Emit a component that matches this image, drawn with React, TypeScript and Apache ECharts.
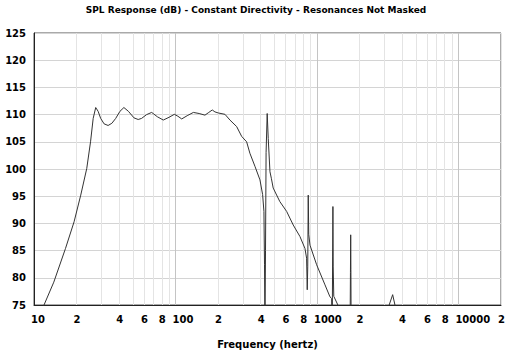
import React, { useEffect, useRef } from "react";
import * as echarts from "echarts";

// Frequency (Hz) and SPL (dB)
const freqs: number[] = [
  10, 11.77, 13.8, 16.7, 19.2, 21.4, 23.6, 25.1, 26.2, 27.3, 28.4, 29.6, 31.3, 33.4, 35.5, 37.8,
  40.5, 43.2, 46.5, 50.9, 54.5, 57.6, 62.5, 67.9, 74.5, 82, 90, 98.2, 104, 110.7, 121, 133.8,
  147, 161.6, 172, 182, 190, 200.6, 223.8, 242.7, 270.7, 293.6, 318.4, 335.7, 364.5, 395.6,
  413, 422, 426, 429, 433, 437, 445, 452.7, 465.5, 476, 490.6, 547, 610.8, 680, 758, 822.8,
  845, 854, 861, 868, 875, 893, 995, 1140, 1236, 1270, 1282, 1291, 1297, 1303, 1315, 1406,
  1500, 1650, 1715, 1725, 1732, 1738, 1745, 2200, 2800, 3240, 3430, 3560, 3800, 6000, 20000,
];
const spl: number[] = [
  71, 75, 79.2, 85.4, 90.3, 95.2, 100.1, 105, 109.3, 111.3, 110.6, 109.3, 108.3, 108.0, 108.4, 109.3,
  110.6, 111.3, 110.6, 109.4, 109.1, 109.3, 110.0, 110.4, 109.6, 109.0, 109.5, 110.05, 109.7, 109.2, 109.8, 110.4,
  110.2, 109.9, 110.4, 110.85, 110.5, 110.3, 110.05, 109.0, 107.8, 106.0, 105.0, 102.9, 100.5, 98.0,
  95.3, 92.2, 82.5, 70, 85, 103, 110.2, 105.6, 99.5, 98.3, 96.5, 94.0, 92.2, 89.7, 87.6, 85.4,
  83.6, 77.8, 82, 95.2, 88, 86, 82.4, 78.7, 76.5, 76.2, 70, 84, 93.1, 82, 76.6, 75,
  73, 72, 70, 81, 87.9, 81.5, 70, 72, 72, 75, 76.9, 75, 72, 68, 60,
];

const gridFreqs: number[] = [
  10, 20, 30, 40, 50, 60, 70, 80, 90,
  100, 200, 300, 400, 500, 600, 700, 800, 900,
  1000, 2000, 3000, 4000, 5000, 6000, 7000, 8000, 9000,
  10000, 20000,
];
const labelFreqs: number[] = [10, 20, 40, 60, 80, 100, 200, 400, 600, 800, 1000, 2000, 4000, 6000, 8000, 10000, 20000];

const FONT = "DejaVu Sans";

export default function App() {
  const ref = useRef<HTMLDivElement>(null);
  useEffect(() => {
    if (!ref.current) return;
    const chart = echarts.init(ref.current, null, { renderer: "svg" });
    const data = freqs.map((f, i) => [Math.log10(f), spl[i]]);
    const fmt = (v: number) => {
      const f = Math.round(Math.pow(10, v));
      const s = String(f);
      return /^10*$/.test(s) ? s : s[0];
    };
    chart.setOption({
      animation: false,
      backgroundColor: "#fff",
      title: {
        text: "SPL Response (dB) - Constant Directivity - Resonances Not Masked",
        left: "center",
        top: 0,
        padding: [5, 5, 5, 5],
        textStyle: { fontFamily: FONT, fontWeight: "bold", fontSize: 9, color: "#000" },
      },
      grid: {
        left: 34,
        right: 11,
        top: 33,
        bottom: 52,
        show: true,
        borderColor: "#555",
        borderWidth: 1,
      },
      xAxis: {
        type: "value",
        min: 1,
        max: Math.log10(20000),
        name: "Frequency (hertz)",
        nameLocation: "middle",
        nameGap: 34,
        nameTextStyle: { fontFamily: FONT, fontWeight: "bold", fontSize: 10, color: "#000" },
        axisLine: { show: true, lineStyle: { color: "#222", width: 1 } },
        axisTick: { show: false, customValues: gridFreqs.map((f) => Math.log10(f)) },
        splitLine: {
          show: true,
          lineStyle: {
            color: ["#c4c4c4", "#e4e4e4", "#e4e4e4", "#e4e4e4", "#e4e4e4", "#e4e4e4", "#e4e4e4", "#e4e4e4", "#e4e4e4"],
            width: 1,
          },
        },
        axisLabel: {
          customValues: labelFreqs.map((f) => Math.log10(f)),
          formatter: fmt,
          align: "left",
          padding: [0, 0, 0, -3],
          margin: 9,
          fontFamily: FONT,
          fontWeight: "bold",
          fontSize: 10,
          color: "#000",
        },
      },
      yAxis: {
        type: "value",
        min: 75,
        max: 125,
        interval: 5,
        axisLine: { show: true, lineStyle: { color: "#222", width: 1 } },
        axisTick: { show: false },
        splitLine: { show: true, lineStyle: { color: "#d4d4d4", width: 1 } },
        axisLabel: {
          margin: 8,
          fontFamily: FONT,
          fontWeight: "bold",
          fontSize: 10,
          color: "#000",
        },
      },
      series: [
        {
          type: "line",
          data,
          showSymbol: false,
          symbol: "none",
          clip: true,
          lineStyle: { color: "#333", width: 1 },
        },
      ],
    });
    return () => chart.dispose();
  }, []);
  return (
    <div
      ref={ref}
      style={{ position: "fixed", left: 0, top: 0, width: 512, height: 357, background: "#fff" }}
    />
  );
}
